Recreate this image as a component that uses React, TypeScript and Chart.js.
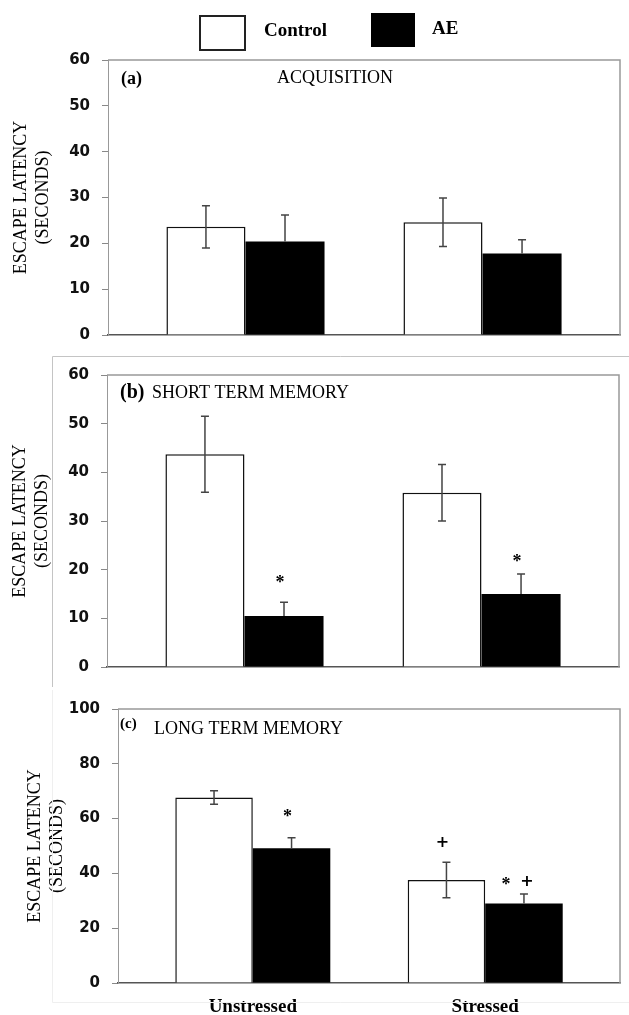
import React, { useEffect, useRef } from 'react';
import { Chart, registerables } from 'chart.js';
Chart.register(...registerables);

// ---------- data ----------
const categories = ['Unstressed', 'Stressed'];
const seriesNames = ['Control', 'AE'];

const acqControl = [23.6, 24.6];
const acqControlErr = [4.6, 5.3];
const acqAE = [20.4, 17.8];
const acqAEErr = [5.8, 3.0];

const stmControl = [43.7, 35.8];
const stmControlErr = [7.8, 5.8];
const stmAE = [10.5, 15.0];
const stmAEErr = [2.8, 4.1];

const ltmControl = [67.7, 37.6];
const ltmControlErr = [2.5, 6.5];
const ltmAE = [49.2, 29.0];
const ltmAEErr = [3.8, 3.5];

// significance marks and the y value (seconds) at which each is printed
const acqControlMarks = ['', ''];
const acqAEMarks = ['', ''];
const stmControlMarks = ['', ''];
const stmAEMarks = ['*', '*'];
const ltmControlMarks = ['', '+'];
const ltmAEMarks = ['*', '*+'];
const acqControlMarkY = [0, 0];
const acqAEMarkY = [0, 0];
const stmControlMarkY = [0, 0];
const stmAEMarkY = [18.0, 22.2];
const ltmControlMarkY = [0, 51.4];
const ltmAEMarkY = [62.0, 37.2];

const yMaxAB = 60;
const yStepAB = 10;
const yMaxC = 100;
const yStepC = 20;

const panelTags = ['(a)', '(b)', '(c)'];
const panelTitles = ['ACQUISITION', 'SHORT TERM MEMORY', 'LONG TERM MEMORY'];
const yTitle = ['ESCAPE LATENCY', '(SECONDS)'];

// ---------- styling ----------
const SERIF = '"Liberation Serif", "Times New Roman", serif';
const TICKFONT = '"DejaVu Sans", sans-serif';

type PanelDef = {
  control: number[]; controlErr: number[]; ae: number[]; aeErr: number[];
  controlMarks: string[]; aeMarks: string[]; controlMarkY: number[]; aeMarkY: number[];
  yMax: number; yStep: number; idx: number;
  top: number; height: number; yWidth: number; pad: { top: number; bottom: number; right: number };
  titlePadTop: number; showX: boolean; legend: boolean; outer: 'none' | 'b' | 'c';
  tagFont: number; tagDx: number; tagDy: number; titleDx: number; titleDy: number;
};

const panels: PanelDef[] = [
  { control: acqControl, controlErr: acqControlErr, ae: acqAE, aeErr: acqAEErr,
    controlMarks: acqControlMarks, aeMarks: acqAEMarks, controlMarkY: acqControlMarkY, aeMarkY: acqAEMarkY,
    yMax: yMaxAB, yStep: yStepAB, idx: 0,
    top: 0, height: 356, yWidth: 108, pad: { top: 60, bottom: 5, right: 9 }, titlePadTop: 10,
    showX: false, legend: true, outer: 'none', tagFont: 18, tagDx: 13, tagDy: 19, titleDx: 169, titleDy: 18 },
  { control: stmControl, controlErr: stmControlErr, ae: stmAE, aeErr: stmAEErr,
    controlMarks: stmControlMarks, aeMarks: stmAEMarks, controlMarkY: stmControlMarkY, aeMarkY: stmAEMarkY,
    yMax: yMaxAB, yStep: yStepAB, idx: 1,
    top: 352, height: 340, yWidth: 107, pad: { top: 23, bottom: 25, right: 10 }, titlePadTop: 9,
    showX: false, legend: false, outer: 'b', tagFont: 20, tagDx: 13, tagDy: 18, titleDx: 45, titleDy: 18 },
  { control: ltmControl, controlErr: ltmControlErr, ae: ltmAE, aeErr: ltmAEErr,
    controlMarks: ltmControlMarks, aeMarks: ltmAEMarks, controlMarkY: ltmControlMarkY, aeMarkY: ltmAEMarkY,
    yMax: yMaxC, yStep: yStepC, idx: 2,
    top: 688, height: 327, yWidth: 118, pad: { top: 5, bottom: 0, right: 9 }, titlePadTop: 24,
    showX: true, legend: false, outer: 'c', tagFont: 15, tagDx: 2, tagDy: 15, titleDx: 36, titleDy: 20 },
];

const decorPlugin = {
  id: 'decor',
  beforeDatasetsDraw(chart: any) {
    const p: PanelDef = chart.options.plugins.decor.panel;
    const ctx = chart.ctx;
    const ca = chart.chartArea;
    ctx.save();
    if (p.outer === 'b') {
      ctx.strokeStyle = '#c4c4c4';
      ctx.lineWidth = 1;
      ctx.beginPath();
      ctx.moveTo(52.5, 335);
      ctx.lineTo(52.5, 4.5);
      ctx.lineTo(629, 4.5);
      ctx.stroke();
    } else if (p.outer === 'c') {
      ctx.strokeStyle = '#efefef';
      ctx.lineWidth = 1;
      ctx.beginPath();
      ctx.moveTo(52.5, 2);
      ctx.lineTo(52.5, 314.5);
      ctx.lineTo(629, 314.5);
      ctx.stroke();
    }
    ctx.strokeStyle = '#999';
    ctx.lineWidth = 1.5;
    ctx.beginPath();
    ctx.moveTo(ca.left, ca.top);
    ctx.lineTo(ca.right, ca.top);
    ctx.lineTo(ca.right, ca.bottom);
    ctx.stroke();
    ctx.restore();
  },
  afterDatasetsDraw(chart: any) {
    const p: PanelDef = chart.options.plugins.decor.panel;
    const ctx = chart.ctx;
    const ca = chart.chartArea;
    const ys = chart.scales.y;
    ctx.save();
    chart.data.datasets.forEach((ds: any, di: number) => {
      const meta = chart.getDatasetMeta(di);
      meta.data.forEach((bar: any, j: number) => {
        const v = ds.data[j].y;
        const e = ds.errors[j];
        const cx = bar.x;
        const yTop = ys.getPixelForValue(v + e);
        const yBot = ds.errUpOnly ? ys.getPixelForValue(v) : ys.getPixelForValue(v - e);
        ctx.strokeStyle = '#444';
        ctx.lineWidth = 1.5;
        ctx.beginPath();
        ctx.moveTo(cx, yBot);
        ctx.lineTo(cx, yTop);
        ctx.moveTo(cx - 4, yTop);
        ctx.lineTo(cx + 4, yTop);
        if (!ds.errUpOnly) {
          ctx.moveTo(cx - 4, yBot);
          ctx.lineTo(cx + 4, yBot);
        }
        ctx.stroke();
        const mark: string = ds.marks[j];
        if (mark) {
          const cy = ys.getPixelForValue(ds.markY[j]);
          ctx.fillStyle = '#000';
          ctx.textAlign = 'center';
          ctx.textBaseline = 'alphabetic';
          const syms = mark.split('');
          const offs = syms.length === 1 ? [-4] : [-18, 3];
          syms.forEach((s, k) => {
            if (s === '*') {
              ctx.font = `bold 18px ${SERIF}`;
              ctx.fillText(s, cx + offs[k], cy + 0.47 * 18);
            } else {
              ctx.font = `bold 16px ${TICKFONT}`;
              ctx.fillText(s, cx + offs[k], cy + 0.3 * 16);
            }
          });
        }
      });
    });
    ctx.fillStyle = '#000';
    ctx.textAlign = 'left';
    ctx.textBaseline = 'middle';
    ctx.font = `bold ${p.tagFont}px ${SERIF}`;
    ctx.fillText(panelTags[p.idx], ca.left + p.tagDx, ca.top + p.tagDy);
    ctx.font = `18px ${SERIF}`;
    ctx.fillText(panelTitles[p.idx], ca.left + p.titleDx, ca.top + p.titleDy);
    if (p.legend) {
      const dsets = chart.data.datasets;
      ctx.lineWidth = 2;
      ctx.strokeStyle = '#222';
      ctx.fillStyle = dsets[0].backgroundColor;
      ctx.fillRect(200, 16, 45, 34);
      ctx.strokeRect(200, 16, 45, 34);
      ctx.fillStyle = dsets[1].backgroundColor;
      ctx.fillRect(371, 13, 44, 34);
      ctx.fillStyle = '#000';
      ctx.font = `bold 19px ${SERIF}`;
      ctx.textBaseline = 'middle';
      ctx.fillText(dsets[0].label, 264, 31);
      ctx.fillText(dsets[1].label, 432, 29);
    }
    ctx.restore();
  },
};

function buildConfig(p: PanelDef): any {
  const mk = (vals: number[]) => vals.map((y, i) => ({ x: i, y }));
  return {
    type: 'bar',
    data: {
      datasets: [
        { label: seriesNames[0], data: mk(p.control), errors: p.controlErr, marks: p.controlMarks,
          markY: p.controlMarkY, errUpOnly: false, backgroundColor: '#ffffff', borderColor: '#111',
          borderWidth: 1.5, borderSkipped: 'start', categoryPercentage: 0.667, barPercentage: 1 },
        { label: seriesNames[1], data: mk(p.ae), errors: p.aeErr, marks: p.aeMarks,
          markY: p.aeMarkY, errUpOnly: true, backgroundColor: '#000000', borderColor: '#000',
          borderWidth: 0, categoryPercentage: 0.667, barPercentage: 1 },
      ],
    },
    options: {
      animation: false,
      responsive: false,
      maintainAspectRatio: false,
      layout: { padding: { left: 0, top: p.pad.top, bottom: p.pad.bottom, right: p.pad.right } },
      plugins: {
        legend: { display: false },
        tooltip: { enabled: false },
        decor: { panel: p },
      },
      scales: {
        x: {
          type: 'linear',
          offset: false,
          min: -0.58,
          max: 1.58,
          afterBuildTicks: (s: any) => { s.ticks = categories.map((_, i) => ({ value: i })); },
          afterFit: (s: any) => { s.height = p.showX ? 32 : 0; },
          grid: { display: false, drawTicks: false, offset: false },
          border: { display: true, color: '#555', width: 1.5 },
          ticks: {
            display: p.showX,
            padding: 13,
            color: '#000',
            font: { family: SERIF, weight: 'bold', size: 19 },
            callback: (v: any) => categories[v] ?? '',
          },
        },
        y: {
          min: 0,
          max: p.yMax,
          afterFit: (s: any) => { s.width = p.yWidth; },
          ticks: {
            stepSize: p.yStep,
            padding: 12,
            color: '#111',
            font: { family: TICKFONT, weight: 'bold', size: 15 },
          },
          grid: { drawOnChartArea: false, drawTicks: true, tickLength: 6, color: '#888', lineWidth: 1 },
          border: { display: true, color: '#999', width: 1 },
          title: {
            display: true,
            text: yTitle,
            color: '#000',
            font: { family: SERIF, size: 18, lineHeight: '22px' },
            padding: { top: p.titlePadTop, bottom: 0 },
          },
        },
      },
    },
    plugins: [decorPlugin],
  };
}

function Panel({ p }: { p: PanelDef }) {
  const ref = useRef<HTMLCanvasElement | null>(null);
  useEffect(() => {
    if (!ref.current) return;
    const chart = new Chart(ref.current, buildConfig(p));
    return () => chart.destroy();
  }, [p]);
  return (
    <canvas
      ref={ref}
      width={629}
      height={p.height}
      style={{ position: 'absolute', left: 0, top: p.top, width: 629, height: p.height, display: 'block' }}
    />
  );
}

export default function App() {
  return (
    <div style={{ position: 'absolute', left: 0, top: 0, width: 629, height: 1015, background: '#fff', overflow: 'hidden' }}>
      {panels.map((p) => (
        <Panel key={p.idx} p={p} />
      ))}
    </div>
  );
}
